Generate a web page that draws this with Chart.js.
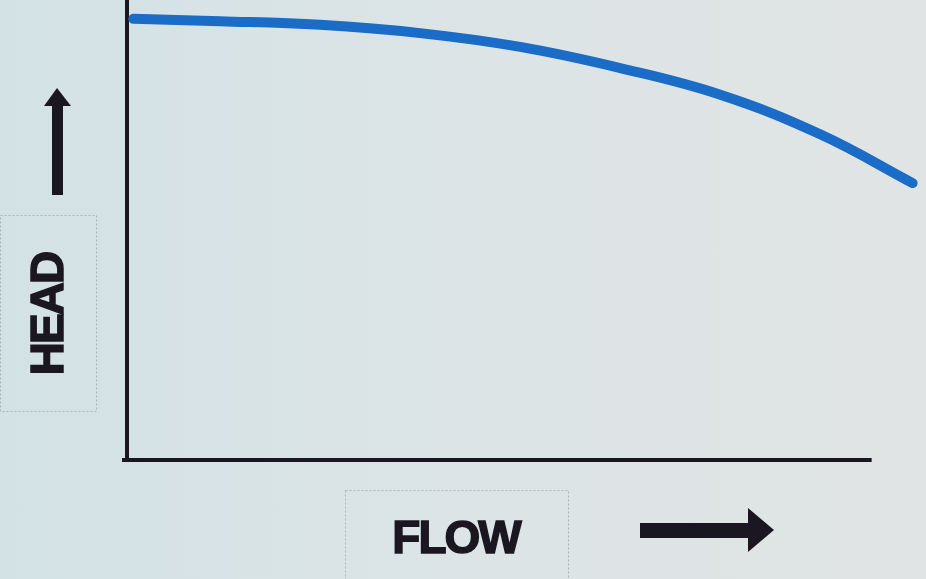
<!DOCTYPE html>
<html lang="en">
  <head>
    <meta charset="UTF-8" />
    <title>Pump curve</title>
    <script src="https://cdn.jsdelivr.net/npm/chart.js@4/dist/chart.umd.min.js"></script>
    <style>
      html, body { margin: 0; padding: 0; }
      body {
        width: 926px;
        height: 579px;
        overflow: hidden;
        background: linear-gradient(90deg, #d3e2e5 0%, #dbe4e6 45%, #e1e4e4 100%);
      }
      #pump { display: block; }
    </style>
  </head>
  <body>
    <canvas id="pump" width="926" height="579"></canvas>
    <script>
      // flow (0-100) and head (0-100)
      const flow = [0.8, 11.8, 24.5, 37.2, 49.9, 62.6, 75.3, 88.1, 99.7];
      const head = [95.9, 95.4, 94.6, 92.8, 89.8, 85.2, 79.4, 70.7, 60.2];
      const xAxisLabel = "FLOW";
      const yAxisLabel = "HEAD";
      const xAxisEnd = 94.5;

      const ink = "#1b1720";

      const axesAndLabels = {
        id: "axesAndLabels",
        beforeDatasetsDraw(chart) {
          const { ctx, chartArea, scales } = chart;
          ctx.save();
          ctx.strokeStyle = ink;
          ctx.lineWidth = 4;
          ctx.beginPath();
          ctx.moveTo(chartArea.left, 0);
          ctx.lineTo(chartArea.left, chartArea.bottom + 2);
          ctx.stroke();
          ctx.beginPath();
          ctx.moveTo(chartArea.left - 5, chartArea.bottom);
          ctx.lineTo(scales.x.getPixelForValue(xAxisEnd), chartArea.bottom);
          ctx.stroke();
          ctx.restore();
        },
        afterDraw(chart) {
          const { ctx } = chart;
          ctx.save();
          // faint label boxes
          ctx.strokeStyle = "rgba(90,100,100,0.35)";
          ctx.lineWidth = 1;
          ctx.setLineDash([2, 2]);
          ctx.strokeRect(0.5, 215.5, 96, 196);
          ctx.strokeRect(345.5, 490.5, 223, 100);
          ctx.setLineDash([]);

          ctx.fillStyle = ink;
          ctx.strokeStyle = ink;
          ctx.lineWidth = 1.5;
          ctx.font = "bold 46px 'Liberation Sans', Arial, sans-serif";
          ctx.textAlign = "center";
          ctx.textBaseline = "middle";
          ctx.letterSpacing = "-2px";
          ctx.fillText(xAxisLabel, 456, 540);
          ctx.strokeText(xAxisLabel, 456, 540);

          ctx.save();
          ctx.translate(50, 314);
          ctx.rotate(-Math.PI / 2);
          ctx.fillText(yAxisLabel, 0, 0);
          ctx.strokeText(yAxisLabel, 0, 0);
          ctx.restore();

          // up arrow
          ctx.fillRect(52, 103, 11, 92);
          ctx.beginPath();
          ctx.moveTo(44, 106);
          ctx.lineTo(57, 88);
          ctx.lineTo(71, 106);
          ctx.closePath();
          ctx.fill();

          // right arrow
          ctx.fillRect(640, 523, 112, 15);
          ctx.beginPath();
          ctx.moveTo(748, 508);
          ctx.lineTo(774, 530);
          ctx.lineTo(748, 552);
          ctx.closePath();
          ctx.fill();
          ctx.restore();
        },
      };

      new Chart(document.getElementById("pump"), {
        type: "line",
        data: {
          datasets: [
            {
              data: flow.map((f, i) => ({ x: f, y: head[i] })),
              borderColor: "#1a6cc6",
              borderWidth: 10,
              borderCapStyle: "round",
              pointRadius: 0,
              tension: 0.4,
              clip: false,
            },
          ],
        },
        options: {
          responsive: false,
          animation: false,
          devicePixelRatio: 1,
          layout: { padding: { left: 127, top: 0, right: 11, bottom: 119 } },
          plugins: { legend: { display: false }, tooltip: { enabled: false } },
          scales: {
            x: { type: "linear", min: 0, max: 100, display: false },
            y: { min: 0, max: 100, display: false },
          },
        },
        plugins: [axesAndLabels],
      });
    </script>
  </body>
</html>
